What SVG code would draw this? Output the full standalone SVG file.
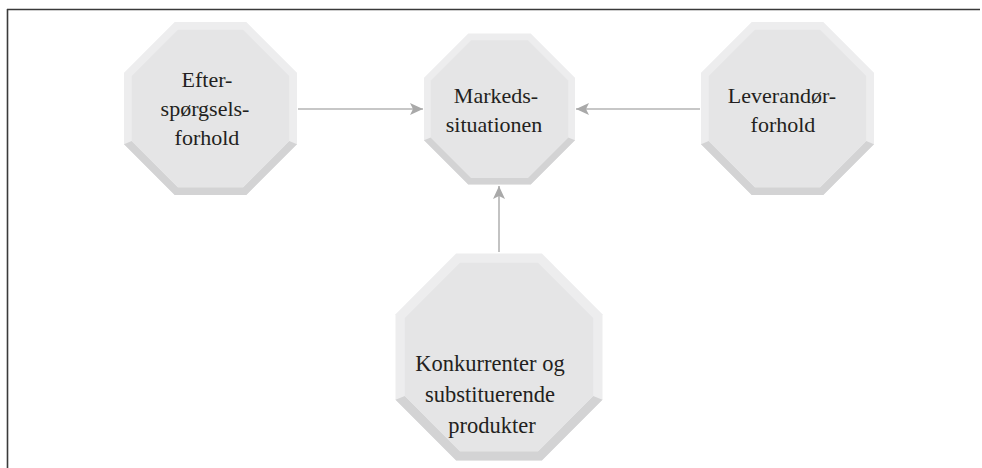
<svg xmlns="http://www.w3.org/2000/svg" xmlns:xlink="http://www.w3.org/1999/xlink" width="982" height="468" viewBox="0 0 982 468">
<style>
.lbl{font-family:"Liberation Serif","DejaVu Serif",serif;font-size:22px;fill:#231f20;text-anchor:middle}
.big{font-size:22.5px}
.frame{stroke:#3a3a3a;stroke-width:1.6;fill:none}
.conn{stroke:#b4b4b4;stroke-width:1.6;fill:none}
</style>
<defs>
<g id="oct">
<polygon points="-41.42,-100 41.42,-100 100,-41.42 100,41.42 41.42,100 -41.42,100 -100,41.42 -100,-41.42" fill="#ededee"/>
<polygon points="100,41.42 41.42,100 -41.42,100 -100,41.42 -91,37.69 -37.69,91 37.69,91 91,37.69" fill="#d3d3d4"/>
<polygon points="-37.69,-91 37.69,-91 91,-37.69 91,37.69 37.69,91 -37.69,91 -91,37.69 -91,-37.69" fill="#e5e5e6"/>
</g>
<marker id="arr" markerUnits="userSpaceOnUse" markerWidth="14" markerHeight="12" refX="13" refY="6" orient="auto">
<path d="M0,0 L13,6 L0,12 L3,6 Z" fill="#a9a9a9"/>
</marker>
</defs>
<rect width="982" height="468" fill="#ffffff"/>
<g id="frame">
<line class="frame" x1="7" y1="9.5" x2="980" y2="9.5"/>
<line class="frame" x1="7.5" y1="9" x2="7.5" y2="468"/>
</g>
<g id="connectors">
<line class="conn" x1="298" y1="109" x2="423" y2="109" marker-end="url(#arr)"/>
<line class="conn" x1="700" y1="109" x2="576" y2="109" marker-end="url(#arr)"/>
<line class="conn" x1="499" y1="252" x2="499" y2="186" marker-end="url(#arr)"/>
</g>
<g id="node-efterspoergsel">
<use xlink:href="#oct" transform="translate(210.5,108.5) scale(0.865)"/>
<text class="lbl" x="207" y="87">Efter-</text>
<text class="lbl" x="205" y="116">spørgsels-</text>
<text class="lbl" x="207" y="145">forhold</text>
</g>
<g id="node-markedssituationen">
<use xlink:href="#oct" transform="translate(499.5,109) scale(0.755)"/>
<text class="lbl" x="496" y="103">Markeds-</text>
<text class="lbl" x="494" y="132">situationen</text>
</g>
<g id="node-leverandoer">
<use xlink:href="#oct" transform="translate(787.5,108.5) scale(0.865)"/>
<text class="lbl" x="782" y="103">Leverandør-</text>
<text class="lbl" x="783" y="132">forhold</text>
</g>
<g id="node-konkurrenter">
<use xlink:href="#oct" transform="translate(499,357) scale(1.035)"/>
<text class="lbl big" x="490" y="371">Konkurrenter og</text>
<text class="lbl big" x="490" y="402">substituerende</text>
<text class="lbl big" x="492" y="433">produkter</text>
</g>
</svg>
